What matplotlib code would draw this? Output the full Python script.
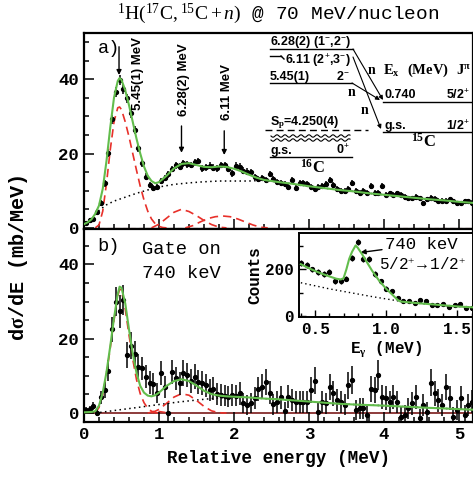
import numpy as np
import matplotlib
matplotlib.use('Agg')
import matplotlib.pyplot as plt
from matplotlib.ticker import MultipleLocator

plt.rcParams['font.family'] = ['Liberation Mono', 'DejaVu Sans Mono', 'DejaVu Sans']
plt.rcParams['font.weight'] = 'bold'
plt.rcParams['axes.labelweight'] = 'bold'
plt.rcParams['mathtext.fontset'] = 'custom'
plt.rcParams['mathtext.rm'] = 'Liberation Serif:weight=normal'
plt.rcParams['mathtext.it'] = 'Liberation Serif:style=italic:weight=normal'
plt.rcParams['mathtext.bf'] = 'Liberation Serif:weight=bold'

# ---------------- data ----------------
# relative-energy bin centres (0.05 MeV bins)
erel = np.round(np.arange(0.025, 5.2, 0.05), 3)

# panel a) inclusive cross section (mb/MeV)
xs_a = [1.3, 2.0, 2.4, 4.4, 6.8, 12.0, 20.2, 29.2, 36.5, 39.8,
        37.3, 34.9, 30.8, 26.3, 21.4, 17.4, 13.8, 11.5, 10.7, 11.1,
        12.6, 13.4, 14.4, 15.8, 16.8, 16.5, 17.4, 17.1, 16.9, 17.6,
        18.0, 16.0, 16.3, 16.7, 16.2, 16.0, 16.9, 16.9, 15.8, 14.7,
        16.7, 16.5, 15.4, 15.1, 14.9, 13.8, 13.1, 13.5, 12.9, 14.5,
        13.1, 12.4, 12.0, 11.7, 11.1, 12.9, 10.7, 12.2, 12.2, 11.8,
        11.1, 10.4, 10.9, 11.3, 11.7, 12.9, 11.6, 10.4, 10.0, 10.0,
        10.4, 12.0, 9.8, 9.3, 9.8, 9.3, 11.3, 9.3, 9.3, 11.3,
        8.9, 9.3, 8.9, 9.3, 8.9, 8.3, 8.0, 8.0, 8.3, 8.0,
        6.6, 7.7, 8.1, 7.8, 7.3, 7.3, 7.3, 7.7, 7.1, 6.6,
        6.6, 7.1, 7.1, 6.8]
err_a = [0.5, 0.6, 0.6, 0.7, 0.8, 1.0, 1.1, 1.2, 1.3, 1.3,
         1.3, 1.2, 1.2, 1.1, 1.0, 1.0, 0.9, 0.9, 0.8, 0.8,
         0.8, 0.9, 0.9, 0.9, 0.9, 0.9, 0.9, 0.9, 0.9, 0.9,
         0.9, 0.9, 0.9, 0.9, 0.9, 0.9, 0.9, 0.9, 0.9, 0.9,
         0.9, 0.9, 0.9, 0.9, 0.8, 0.8, 0.8, 0.8, 0.8, 0.8,
         0.8, 0.8, 0.8, 0.8, 0.8, 0.8, 0.8, 0.8, 0.8, 0.8,
         0.8, 0.8, 0.8, 0.8, 0.8, 0.8, 0.8, 0.8, 0.8, 0.8,
         0.8, 0.8, 0.8, 0.8, 0.8, 0.8, 0.8, 0.8, 0.8, 0.8,
         0.7, 0.7, 0.7, 0.7, 0.7, 0.7, 0.7, 0.7, 0.7, 0.7,
         0.7, 0.7, 0.7, 0.7, 0.7, 0.7, 0.7, 0.7, 0.7, 0.7,
         0.7, 0.7, 0.7, 0.7]

# panel a) fit curves
fit_a_x = [0.0, 0.05, 0.1, 0.15, 0.2, 0.25, 0.3, 0.35, 0.4, 0.45, 0.475, 0.5, 0.55,
           0.6, 0.65, 0.7, 0.75, 0.8, 0.85, 0.9, 0.95, 1.0, 1.1, 1.2, 1.3, 1.4, 1.5,
           1.6, 1.7, 1.8, 1.9, 2.0, 2.1, 2.2, 2.3, 2.4, 2.6, 2.8, 3.0, 3.2, 3.4, 3.6,
           3.8, 4.0, 4.2, 4.4, 4.6, 4.8, 5.0, 5.2]
fit_a_y = [1.0, 1.5, 2.3, 3.8, 6.0, 10.5, 18.0, 27.0, 35.0, 39.5, 40.3, 39.8, 37.0,
           33.0, 28.5, 24.0, 20.0, 16.5, 14.0, 12.6, 12.0, 12.3, 14.0, 16.0, 17.2, 17.4, 16.9,
           16.4, 16.3, 16.5, 16.4, 15.9, 15.2, 14.3, 13.5, 12.9, 12.3, 11.8, 11.2, 10.7, 10.2, 9.8,
           9.3, 8.9, 8.5, 8.1, 7.7, 7.4, 7.0, 6.7]
bg_a_x = [0.15, 0.2, 0.3, 0.4, 0.5, 0.6, 0.7, 0.8, 0.9, 1.0, 1.2, 1.4, 1.6, 1.8, 2.0,
          2.2, 2.4, 2.6, 2.8, 3.0, 3.2, 3.4, 3.6, 3.8, 4.0, 4.2, 4.4, 4.6, 4.8, 5.0, 5.2]
bg_a_y = [3.5, 4.7, 6.2, 7.2, 7.9, 8.6, 9.3, 9.9, 10.5, 11.0, 11.7, 12.1, 12.4, 12.6, 12.6,
          12.6, 12.8, 12.3, 11.8, 11.2, 10.7, 10.2, 9.8, 9.3, 8.9, 8.5, 8.1, 7.7, 7.4, 7.0, 6.7]
p1_a_x = [0.15, 0.2, 0.25, 0.3, 0.35, 0.4, 0.45, 0.475, 0.5, 0.55, 0.6, 0.65, 0.7, 0.75,
          0.8, 0.85, 0.9, 0.95, 1.0, 1.05, 1.1]
p1_a_y = [0.0, 0.8, 4.5, 12.0, 21.0, 28.5, 32.3, 32.5, 31.8, 28.5, 24.5, 20.0, 15.5, 11.2,
          7.5, 4.5, 2.4, 1.1, 0.4, 0.1, 0.0]
p2_a_x = [0.9, 1.0, 1.1, 1.2, 1.3, 1.4, 1.5, 1.6, 1.7, 1.8, 1.9]
p2_a_y = [0.0, 1.0, 2.6, 4.2, 5.0, 4.4, 3.3, 2.0, 0.9, 0.2, 0.0]
p3_a_x = [1.35, 1.45, 1.55, 1.65, 1.75, 1.85, 1.95, 2.05, 2.15, 2.25, 2.35, 2.45]
p3_a_y = [0.0, 0.6, 1.6, 2.5, 3.0, 3.2, 3.0, 2.4, 1.6, 0.8, 0.2, 0.0]

# panel b) gated on the 740 keV gamma ray
xs_b = [0.8, 1.1, 1.9, 0.1, 4.2, 6.2, 11.4, 22.5, 29.9, 27.4,
        30.5, 15.6, 18.1, 15.9, 12.5, 12.0, 9.8, 8.2, 7.8, 5.3,
        10.7, 7.1, 0.1, 11.1, 9.3, 8.0, 10.8, 10.2, 8.7, 9.8,
        8.4, 8.0, 7.5, 6.2, 6.6, 5.1, 4.8, 4.7, 4.4, 4.8,
        4.7, 5.3, 2.6, 2.2, 2.6, 4.0, 6.4, 7.1, 8.4, 5.5,
        2.4, 3.0, 4.2, 0.5, 4.4, 3.5, 3.0, 3.0, 3.0, 3.0,
        6.2, 8.7, 0.3, 3.0, 2.6, 7.1, 5.3, 3.5, 3.0, 2.2,
        7.5, 8.9, 0.8, 1.3, 1.3, -0.5, 6.6, 6.2, 10.2, 4.4,
        4.0, 3.0, 4.4, 3.0, -1.0, -0.5, 1.3, 2.6, 4.4, -1.4,
        2.2, 0.3, 8.2, 5.3, 3.5, 2.2, 7.1, 4.0, -1.0, 0.8,
        4.0, -0.5, 2.2, 3.0]
err_b = [0.7, 0.9, 1.1, 1.0, 1.8, 2.2, 2.8, 3.4, 3.9, 4.4,
         4.0, 3.4, 3.6, 3.4, 3.3, 3.2, 3.0, 3.0, 2.9, 2.7,
         3.2, 3.0, 2.5, 3.3, 3.2, 3.1, 3.4, 3.3, 3.2, 3.3,
         3.2, 3.2, 3.1, 3.0, 3.1, 2.9, 2.9, 2.9, 2.8, 2.9,
         2.9, 3.0, 2.7, 2.6, 2.7, 2.9, 3.2, 3.3, 3.5, 3.1,
         2.8, 2.9, 3.0, 2.6, 3.1, 3.0, 2.9, 2.9, 2.9, 2.9,
         3.4, 3.7, 2.6, 3.0, 2.9, 3.5, 3.3, 3.0, 2.9, 2.8,
         3.6, 3.8, 2.7, 2.8, 2.8, 2.5, 3.5, 3.5, 4.0, 3.2,
         3.2, 3.0, 3.2, 3.0, 2.5, 2.6, 2.8, 3.0, 3.2, 2.5,
         2.9, 2.7, 3.7, 3.3, 3.1, 2.9, 3.5, 3.2, 2.5, 2.7,
         3.2, 2.6, 3.0, 3.1]

fit_b_x = [0.0, 0.1, 0.15, 0.2, 0.25, 0.3, 0.35, 0.4, 0.45, 0.475, 0.5, 0.55, 0.6, 0.65,
           0.7, 0.75, 0.8, 0.85, 0.9, 0.95, 1.0, 1.1, 1.2, 1.3, 1.4, 1.5, 1.6, 1.7, 1.8,
           1.9, 2.0, 2.2, 2.4, 2.6, 2.8, 3.0, 3.2, 3.4, 3.6, 3.8, 4.0, 4.2, 4.4, 4.6, 4.8,
           5.0, 5.2]
fit_b_y = [0.2, 0.3, 0.5, 2.0, 5.5, 11.0, 18.0, 25.5, 32.0, 34.0, 33.7, 29.5, 22.5, 16.0,
           10.8, 7.3, 5.5, 4.7, 4.5, 4.8, 5.5, 7.3, 8.6, 9.1, 8.6, 7.4, 6.0, 5.1, 4.7,
           4.5, 4.4, 4.2, 3.9, 3.7, 3.4, 3.1, 2.8, 2.5, 2.3, 2.15, 2.0, 1.8, 1.6, 1.4, 1.25,
           1.05, 0.9]
bg_b_x = [0.15, 0.3, 0.5, 0.75, 1.0, 1.25, 1.5, 1.75, 2.0, 2.2, 2.4, 2.6, 2.8, 3.0, 3.2,
          3.4, 3.6, 3.8, 4.0, 4.2, 4.4, 4.6, 4.8, 5.0, 5.2]
bg_b_y = [0.0, 0.4, 0.95, 1.6, 2.3, 2.95, 3.5, 4.0, 4.35, 4.2, 3.9, 3.7, 3.4, 3.1, 2.8,
          2.5, 2.3, 2.15, 2.0, 1.8, 1.6, 1.4, 1.25, 1.05, 0.9]
p1_b_x = [0.15, 0.2, 0.25, 0.3, 0.35, 0.4, 0.45, 0.475, 0.5, 0.55, 0.6, 0.65, 0.7, 0.75,
          0.8, 0.85, 0.9, 0.95, 1.0]
p1_b_y = [0.0, 1.5, 5.0, 10.5, 17.5, 25.0, 31.5, 33.3, 32.8, 28.0, 21.0, 14.5, 9.0, 5.2,
          2.8, 1.3, 0.5, 0.1, 0.0]
p2_b_x = [0.9, 1.0, 1.1, 1.2, 1.3, 1.4, 1.5, 1.6, 1.7, 1.8, 1.9]
p2_b_y = [0.0, 1.0, 2.6, 4.3, 5.2, 4.8, 3.4, 1.8, 0.6, 0.1, 0.0]
p3_b_x = [0.85, 0.95, 1.05, 1.15]
p3_b_y = [0.0, 0.6, 0.3, 0.0]

# inset: gamma-ray spectrum (0.04 MeV bins)
egam = np.round(np.arange(0.40, 1.61, 0.04), 2)
counts = [228, 217, 200, 189, 179, 189, 150, 150, 160, 250, 316, 245, 245, 179, 150, 118,
          108, 79, 65, 65, 55, 69, 65, 47, 47, 51, 41, 47, 51, 37, 37]
cnt_err = [13, 13, 12, 12, 12, 12, 11, 11, 11, 13, 14, 13, 13, 12, 11, 10,
           10, 9, 8, 8, 8, 8, 8, 7, 7, 7, 7, 7, 7, 6, 6]
fit_g_x = [0.40, 0.45, 0.50, 0.55, 0.60, 0.65, 0.68, 0.70, 0.72, 0.74, 0.76, 0.785, 0.80,
           0.83, 0.86, 0.90, 0.95, 1.00, 1.05, 1.08, 1.10, 1.15, 1.2, 1.3, 1.4, 1.5, 1.61]
fit_g_y = [222, 207, 193, 181, 170, 160, 157, 162, 200, 245, 275, 302, 292,
           265, 235, 195, 152, 117, 88, 70, 63, 60, 57, 52, 47, 42, 38]
bg_g_x = [0.40, 0.5, 0.6, 0.7, 0.8, 0.9, 1.0, 1.1, 1.2, 1.3, 1.4, 1.5, 1.61]
bg_g_y = [143, 130, 117, 106, 95, 84, 74, 64, 57, 51, 46, 42, 38]

# ---------------- figure ----------------
W, H = 473, 483
fig = plt.figure(figsize=(W / 100, H / 100), dpi=100)


def fx(p):
    return p / W


def fy(p):
    return 1 - p / H


GREEN = '#62bd4c'
RED = '#e8302a'
SANSB = dict(family='Liberation Sans', fontweight='bold')

ax1 = fig.add_axes([fx(84), fy(229), 389 / W, 196 / H])
ax2 = fig.add_axes([fx(84), fy(422), 389 / W, 193 / H])

for ax in (ax1, ax2):
    for s in ax.spines.values():
        s.set_linewidth(1.6)
    ax.set_xlim(0, 5.187)
    ax.xaxis.set_major_locator(MultipleLocator(1))
    ax.xaxis.set_minor_locator(MultipleLocator(0.2))
    ax.yaxis.set_major_locator(MultipleLocator(20))
    ax.yaxis.set_minor_locator(MultipleLocator(5))
    ax.tick_params(which='both', direction='in', top=False, right=False, width=1.1,
                   labelsize=12.5)
    ax.tick_params(which='major', length=7)
    ax.tick_params(which='minor', length=3.5)

ax1.set_ylim(-0.3, 52.4)
ax2.set_ylim(-2.4, 49.5)
ax1.tick_params(labelbottom=False)
ax1.set_yticks([0, 20, 40])
ax2.set_yticks([0, 20, 40])

# panel a
ax1.axhline(0, color=RED, lw=0.8, ls=(0, (4, 3)), zorder=1)
ax1.plot(bg_a_x, bg_a_y, color='black', ls=(0, (1, 2.2)), lw=1.1, zorder=2)
ax1.plot(p1_a_x, p1_a_y, color=RED, ls=(0, (5, 3)), lw=1.2, zorder=3)
ax1.plot(p2_a_x, p2_a_y, color=RED, ls=(0, (5, 3)), lw=1.2, zorder=3)
ax1.plot(p3_a_x, p3_a_y, color=RED, ls=(0, (5, 3)), lw=1.2, zorder=3)
ax1.errorbar(erel, xs_a, yerr=err_a, fmt='o', ms=2.8, color='black', elinewidth=1.1,
             capsize=0, zorder=4)
ax1.plot(fit_a_x, fit_a_y, color=GREEN, lw=1.5, zorder=5)

# panel b
ax2.axhline(0, color='#7a1a1a', lw=1.2, zorder=1)
ax2.plot(bg_b_x, bg_b_y, color='black', ls=(0, (1, 2.2)), lw=1.1, zorder=2)
ax2.plot(p1_b_x, p1_b_y, color=RED, ls=(0, (5, 3)), lw=1.2, zorder=3)
ax2.plot(p2_b_x, p2_b_y, color=RED, ls=(0, (5, 3)), lw=1.2, zorder=3)
ax2.plot(p3_b_x, p3_b_y, color=RED, ls=(0, (5, 3)), lw=1.0, zorder=3)
ax2.errorbar(erel, xs_b, yerr=err_b, fmt='o', ms=2.8, color='black', elinewidth=1.1,
             capsize=0, zorder=4)
ax2.plot(fit_b_x, fit_b_y, color=GREEN, lw=1.5, zorder=5)

ax2.set_xlabel('Relative energy (MeV)', fontsize=12.7, labelpad=6)
fig.text(fx(18), fy(258), r'd$\mathbf{\sigma}$/dE (mb/MeV)', rotation=90, ha='center',
         va='center', fontsize=14.5)
fig.text(fx(278), fy(14), r'$^{1}\mathrm{H}(^{17}\mathrm{C},^{15}\mathrm{C}+n)$ @ 70 MeV/nucleon',
         ha='center', va='center', fontsize=14, fontweight='normal')

# panel labels
ax1.text(0.035, 0.92, 'a)', transform=ax1.transAxes, fontsize=13.5, va='center',
         fontweight='normal')
ax2.text(0.035, 0.91, 'b)', transform=ax2.transAxes, fontsize=13.5, va='center',
         fontweight='normal')
fig.text(fx(142), fy(250), 'Gate on', fontsize=13.5, va='center', fontweight='normal')
fig.text(fx(142), fy(273), '740 keV', fontsize=13.5, va='center', fontweight='normal')

# state arrows and labels
for e, y0, y1 in [(0.467, 48.7, 41.1), (1.3, 27.4, 20.2), (1.87, 26.1, 19.6)]:
    ax1.annotate('', xy=(e, y1), xytext=(e, y0),
                 arrowprops=dict(arrowstyle='-|>', color='black', lw=1.0,
                                 mutation_scale=7, shrinkA=0, shrinkB=0))
fig.text(fx(138), fy(73), '5.45(1) MeV', rotation=90, ha='center', va='center',
         fontsize=9.5, **SANSB)
fig.text(fx(184), fy(80), '6.28(2) MeV', rotation=90, ha='center', va='center',
         fontsize=9.5, **SANSB)
fig.text(fx(227), fy(92), '6.11 MeV', rotation=90, ha='center', va='center',
         fontsize=9.5, **SANSB)


# level scheme
def seg(x0, y0, x1, y1, **kw):
    kw.setdefault('color', 'black')
    kw.setdefault('lw', 1.0)
    fig.add_artist(plt.Line2D([fx(x0), fx(x1)], [fy(y0), fy(y1)], **kw))


def ftxt(x, y, s, **kw):
    kw.setdefault('va', 'center')
    kw.setdefault('fontsize', 9)
    fig.text(fx(x), fy(y), s, **kw)


seg(270, 49, 353, 49)
ftxt(270, 42, r'6.28(2) (1$^{\mathbf{-}}$,2$^{\mathbf{-}}$)', **SANSB)
seg(270, 56, 281, 56)
seg(281, 56, 284, 59)
ftxt(285, 61, r'6.11 (2$^{\mathbf{+}}$,3$^{\mathbf{-}}$)', **SANSB)
seg(270, 83, 352, 83)
ftxt(270, 77, '5.45(1)', **SANSB)
ftxt(350, 77, r'2$^{\mathbf{-}}$', ha='right', **SANSB)
ftxt(270, 123, r'S$_\mathbf{p}$=4.250(4)', **SANSB)
seg(265, 130, 368, 130, ls=(0, (5, 3)))
# wavy "break" symbol
wx = np.linspace(271, 350, 120)
for yc in (136, 140):
    wy = yc + 1.2 * np.sin((wx - 271) / 8.0 * 2 * np.pi)
    fig.add_artist(plt.Line2D(fx(wx), fy(wy), color='black', lw=0.8))
seg(270, 157, 352, 157)
ftxt(270, 151, 'g.s.', **SANSB)
ftxt(350, 150, r'0$^{\mathbf{+}}$', ha='right', **SANSB)
ftxt(312, 167, r'$^{\mathbf{16}}\mathbf{C}$', ha='center', fontsize=12)

ftxt(383, 70, r'$\mathbf{E}_{\mathbf{x}}$ $\mathbf{(MeV)}$ $\mathbf{J^{\pi}}$', fontsize=10.5)
seg(383, 102, 472, 102)
ftxt(384, 95, '0.740', **SANSB)
ftxt(470, 95, r'5/2$^{\mathbf{+}}$', ha='right', **SANSB)
seg(383, 132, 472, 132)
ftxt(384, 126, 'g.s.', **SANSB)
ftxt(470, 126, r'1/2$^{\mathbf{+}}$', ha='right', **SANSB)
ftxt(423, 141, r'$^{\mathbf{15}}\mathbf{C}$', ha='center', fontsize=12)

for (x0, y0, x1, y1) in [(353, 49, 383, 100), (353, 57, 381, 129), (352, 83, 380, 100)]:
    fig.add_artist(matplotlib.patches.FancyArrowPatch(
        (fx(x0), fy(y0)), (fx(x1), fy(y1)), transform=fig.transFigure,
        arrowstyle='-|>', mutation_scale=6, lw=0.8, color='black',
        shrinkA=0, shrinkB=0))
ftxt(372, 70, r'$\mathbf{n}$', ha='center', fontsize=10)
ftxt(365, 110, r'$\mathbf{n}$', ha='center', fontsize=10)
ftxt(352, 92, r'$\mathbf{n}$', ha='center', fontsize=10)

# inset
axi = fig.add_axes([fx(299), fy(317), 174 / W, 84 / H])
for s in axi.spines.values():
    s.set_linewidth(1.4)
axi.set_xlim(0.387, 1.61)
axi.set_ylim(-3, 355)
axi.xaxis.set_major_locator(MultipleLocator(0.5))
axi.xaxis.set_minor_locator(MultipleLocator(0.1))
axi.set_yticks([0, 200])
axi.yaxis.set_minor_locator(MultipleLocator(100))
axi.tick_params(which='both', direction='in', top=False, right=False, width=1.0,
                labelsize=11.5)
axi.tick_params(which='major', length=5)
axi.tick_params(which='minor', length=3)
axi.plot(bg_g_x, bg_g_y, color='black', ls=(0, (1, 2.2)), lw=1.0, zorder=2)
axi.errorbar(egam, counts, yerr=cnt_err, fmt='o', ms=2.8, color='black',
             elinewidth=1.0, capsize=0, zorder=3)
axi.plot(fit_g_x, fit_g_y, color=GREEN, lw=1.5, zorder=4)
axi.set_xticks([0.5, 1.0, 1.5])
axi.set_xticklabels(['0.5', '1.0', '1.5'])
axi.set_xlabel(r'E$_\mathbf{\gamma}$ (MeV)', fontsize=11.5, labelpad=2)
axi.set_ylabel('Counts', fontsize=11.5, labelpad=2)
axi.annotate('740 keV', xy=(0.82, 272), xytext=(0.99, 306), fontsize=12.5,
             va='center', ha='left', fontweight='normal',
             arrowprops=dict(arrowstyle='-|>', color='black', lw=1.0,
                             mutation_scale=7, shrinkA=0, shrinkB=0))
axi.text(0.95, 221, r'5/2$^{+}\!\!\rightarrow\!$1/2$^{+}$', fontsize=11.5,
         va='center', fontweight='normal')

fig.savefig('out.png', dpi=100)
